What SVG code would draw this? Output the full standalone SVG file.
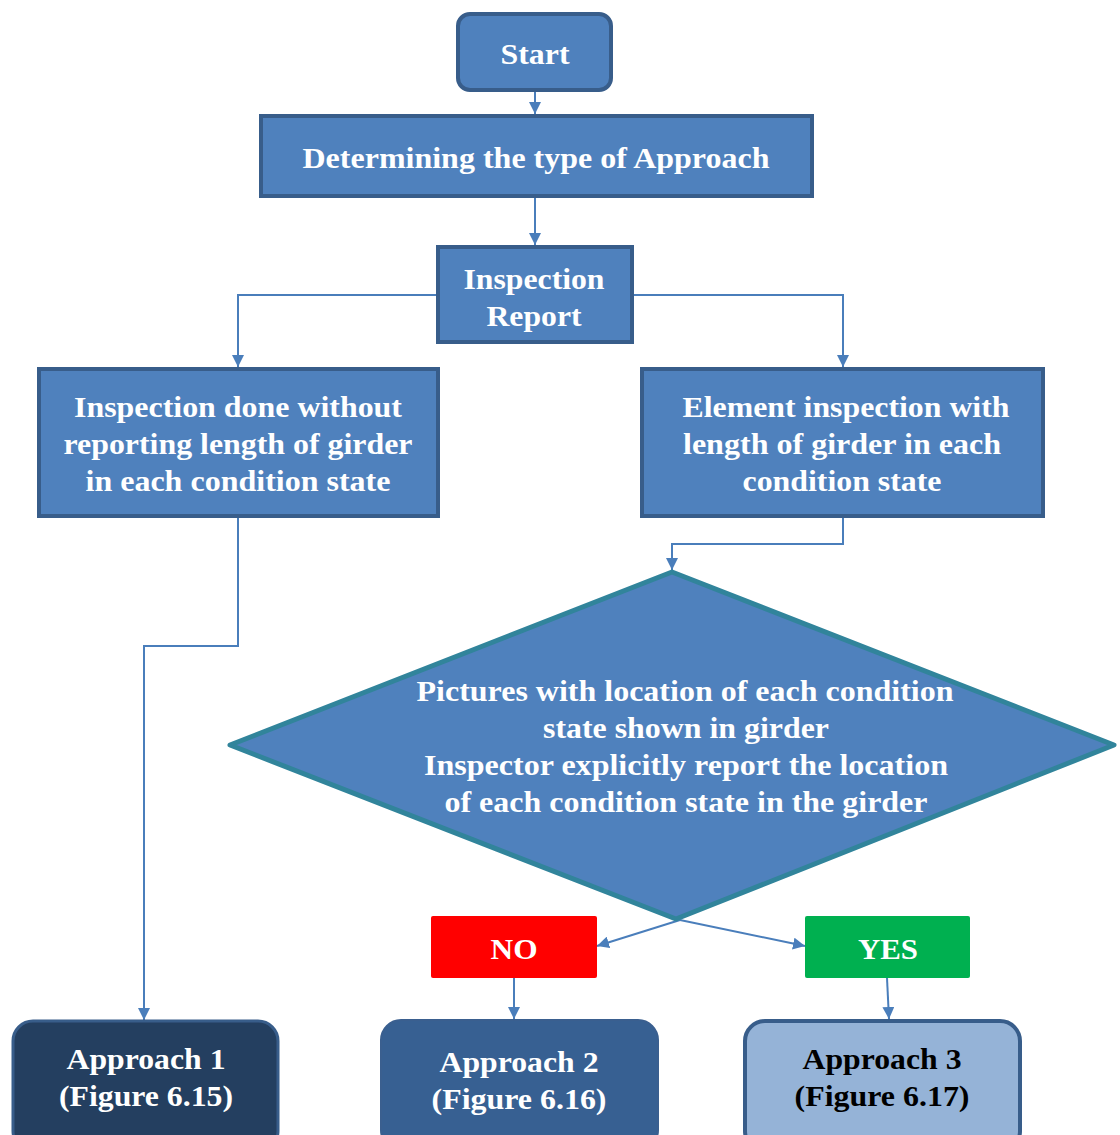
<svg xmlns="http://www.w3.org/2000/svg" width="1120" height="1135" viewBox="0 0 1120 1135">
<style>
.box{fill:#4F81BD;stroke:#385D8A;stroke-width:4}
.t{font-family:'Liberation Serif','Times New Roman',Times,serif;font-weight:bold;font-size:30px;fill:#FFFFFF;text-anchor:middle}
.dark{fill:#000000}
.c{fill:none;stroke:#4A7EBB;stroke-width:2}
</style>
<defs>
<marker id="ah" viewBox="0 0 12 12" refX="12" refY="6" markerWidth="12" markerHeight="12" markerUnits="userSpaceOnUse" orient="auto">
<path d="M0,0 L12,6 L0,12 Z" fill="#4A7EBB"/>
</marker>
</defs>
<rect width="1120" height="1135" fill="#FFFFFF"/>
<g id="connectors">
<path class="c" d="M535,91 L535,114" marker-end="url(#ah)"/>
<path class="c" d="M535,197 L535,245" marker-end="url(#ah)"/>
<path class="c" d="M437,295 L238,295 L238,367" marker-end="url(#ah)"/>
<path class="c" d="M633,295 L843,295 L843,367" marker-end="url(#ah)"/>
<path class="c" d="M238,517 L238,646 L144,646 L144,1020" marker-end="url(#ah)"/>
<path class="c" d="M843,517 L843,544 L672,544 L672,570" marker-end="url(#ah)"/>
<path class="c" d="M680,920 L597,946" marker-end="url(#ah)"/>
<path class="c" d="M680,920 L805,946" marker-end="url(#ah)"/>
<path class="c" d="M514,978 L514,1019" marker-end="url(#ah)"/>
<path class="c" d="M887,978 L889,1019" marker-end="url(#ah)"/>
</g>
<g id="start">
<rect class="box" x="458" y="14" width="153" height="76" rx="12"/>
<text class="t" x="535" y="64" textLength="69" lengthAdjust="spacingAndGlyphs">Start</text>
</g>
<g id="determining">
<rect class="box" x="261" y="116" width="551" height="80"/>
<text class="t" x="536" y="168" textLength="467" lengthAdjust="spacingAndGlyphs">Determining the type of Approach</text>
</g>
<g id="inspection-report">
<rect class="box" x="438" y="247" width="194" height="95"/>
<text class="t" x="534" y="289" textLength="141" lengthAdjust="spacingAndGlyphs">Inspection</text>
<text class="t" x="534" y="326" textLength="95" lengthAdjust="spacingAndGlyphs">Report</text>
</g>
<g id="left-box">
<rect class="box" x="39" y="369" width="399" height="147"/>
<text class="t" x="238" y="417" textLength="328" lengthAdjust="spacingAndGlyphs">Inspection done without</text>
<text class="t" x="238" y="454" textLength="349" lengthAdjust="spacingAndGlyphs">reporting length of girder</text>
<text class="t" x="238" y="491" textLength="305" lengthAdjust="spacingAndGlyphs">in each condition state</text>
</g>
<g id="right-box">
<rect class="box" x="642" y="369" width="401" height="147"/>
<text class="t" x="846" y="417" textLength="327" lengthAdjust="spacingAndGlyphs">Element inspection with</text>
<text class="t" x="842" y="454" textLength="318" lengthAdjust="spacingAndGlyphs">length of girder in each</text>
<text class="t" x="842" y="491" textLength="199" lengthAdjust="spacingAndGlyphs">condition state</text>
</g>
<g id="decision">
<polygon points="672,572 1114,745 676,919 230,745" fill="#4F81BD" stroke="#31849B" stroke-width="5" stroke-linejoin="round"/>
<text class="t" x="685" y="701" textLength="537" lengthAdjust="spacingAndGlyphs">Pictures with location of each condition</text>
<text class="t" x="686" y="738" textLength="286" lengthAdjust="spacingAndGlyphs">state shown in girder</text>
<text class="t" x="686" y="775" textLength="524" lengthAdjust="spacingAndGlyphs">Inspector explicitly report the location</text>
<text class="t" x="686" y="812" textLength="483" lengthAdjust="spacingAndGlyphs">of each condition state in the girder</text>
</g>
<g id="no">
<rect x="431" y="916" width="166" height="62" rx="2" fill="#FF0000"/>
<text class="t" x="514" y="959" textLength="47" lengthAdjust="spacingAndGlyphs">NO</text>
</g>
<g id="yes">
<rect x="805" y="916" width="165" height="62" rx="2" fill="#00B050"/>
<text class="t" x="888" y="959" textLength="60" lengthAdjust="spacingAndGlyphs">YES</text>
</g>
<g id="approach1">
<rect x="13" y="1021" width="265" height="130" rx="20" fill="#243F60" stroke="#385D8A" stroke-width="3"/>
<text class="t" x="146" y="1069" textLength="159" lengthAdjust="spacingAndGlyphs">Approach 1</text>
<text class="t" x="146" y="1106" textLength="174" lengthAdjust="spacingAndGlyphs">(Figure 6.15)</text>
</g>
<g id="approach2">
<rect x="381" y="1020" width="277" height="130" rx="20" fill="#376092" stroke="#3A5F8F" stroke-width="2"/>
<text class="t" x="519" y="1072" textLength="159" lengthAdjust="spacingAndGlyphs">Approach 2</text>
<text class="t" x="519" y="1109" textLength="175" lengthAdjust="spacingAndGlyphs">(Figure 6.16)</text>
</g>
<g id="approach3">
<rect x="745" y="1021" width="275" height="130" rx="20" fill="#95B3D7" stroke="#385D8A" stroke-width="4"/>
<text class="t dark" x="882" y="1069" textLength="159" lengthAdjust="spacingAndGlyphs">Approach 3</text>
<text class="t dark" x="882" y="1106" textLength="175" lengthAdjust="spacingAndGlyphs">(Figure 6.17)</text>
</g>
</svg>
